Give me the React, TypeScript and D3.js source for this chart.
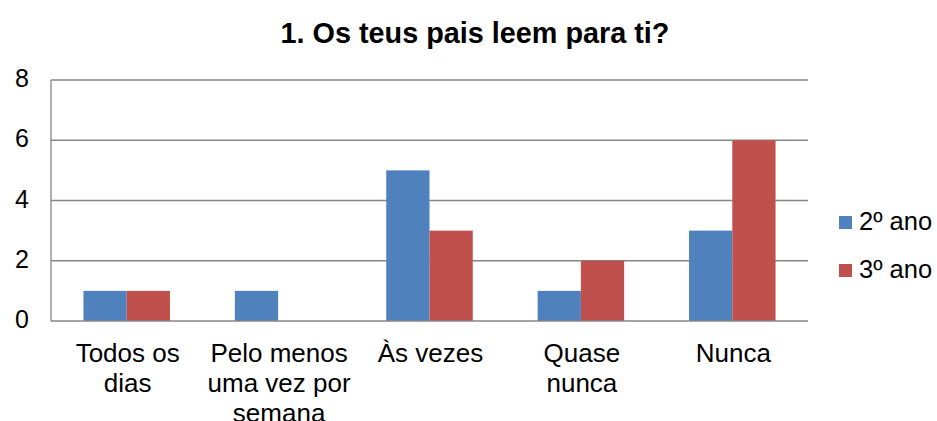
import React from "react";
import * as d3 from "d3";

const title = "1. Os teus pais leem para ti?";
const categories = ["Todos os dias", "Pelo menos uma vez por semana", "Às vezes", "Quase nunca", "Nunca"];
const seriesNames = ["2º ano", "3º ano"];
const values2 = [1, 1, 5, 1, 3];
const values3 = [1, 0, 3, 2, 6];
const yTicks = [0, 2, 4, 6, 8];
const colors = ["#4F81BD", "#C0504D"];

const W = 937;
const H = 421;
const FONT = "'Liberation Sans', Arial, sans-serif";

function wrap(text: string, width: number, size: number): string[] {
  const canvas = document.createElement("canvas");
  const ctx = canvas.getContext("2d")!;
  ctx.font = `${size}px 'Liberation Sans'`;
  const words = text.split(" ");
  const lines: string[] = [];
  let cur = "";
  for (const w of words) {
    const t = cur ? cur + " " + w : w;
    if (ctx.measureText(t).width > width && cur) {
      lines.push(cur);
      cur = w;
    } else cur = t;
  }
  if (cur) lines.push(cur);
  return lines;
}

export default function App() {
  const x = d3.scaleBand<string>().domain(categories).range([51, 808]).paddingInner(0).paddingOuter(0);
  const y = d3.scaleLinear().domain([0, 8]).range([321, 80]);
  const bw = x.bandwidth() / 3.5;
  const off = bw * 0.75;
  const series = [values2, values3];
  const grid = "#868686";
  return (
    <div style={{ position: "absolute", left: 0, top: 0 }}>
      <svg width={W} height={H} style={{ display: "block", fontFamily: FONT }}>
        <rect width={W} height={H} fill="#fff" />
        <text x={475} y={43} textAnchor="middle" fontSize={28.8} fontWeight="bold" fill="#000">{title}</text>
        {yTicks.filter(t => t > 0).map(t => (
          <line key={t} x1={51} x2={808} y1={y(t)} y2={y(t)} stroke={grid} strokeWidth={1.3} />
        ))}
        {series.map((vals, si) =>
          categories.map((c, ci) =>
            vals[ci] > 0 ? (
              <rect key={`${si}-${ci}`} x={(x(c) as number) + off + si * bw} y={y(vals[ci])}
                width={bw} height={y(0) - y(vals[ci])} fill={colors[si]} />
            ) : null
          )
        )}
        <line x1={51} x2={51} y1={y(8)} y2={y(0)} stroke={grid} strokeWidth={1.3} />
        <line x1={51} x2={808} y1={y(0)} y2={y(0)} stroke={grid} strokeWidth={1.3} />
        {yTicks.map(t => (
          <text key={t} x={29} y={y(t) + 7} textAnchor="end" fontSize={25} fill="#000">{t}</text>
        ))}
        {categories.map(c => {
          const lines = wrap(c, 148, 26);
          const cx = (x(c) as number) + x.bandwidth() / 2 + 1;
          return (
            <text key={c} textAnchor="middle" fontSize={26} fill="#000">
              {lines.map((l, i) => (
                <tspan key={i} x={cx} y={362.3 + i * 30}>{l}</tspan>
              ))}
            </text>
          );
        })}
        {seriesNames.map((s, i) => (
          <g key={s} transform={`translate(839, ${216 + i * 48})`}>
            <rect width={13} height={13} fill={colors[i]} />
            <text x={20} y={14} fontSize={25.5} fill="#000">{s}</text>
          </g>
        ))}
      </svg>
    </div>
  );
}
